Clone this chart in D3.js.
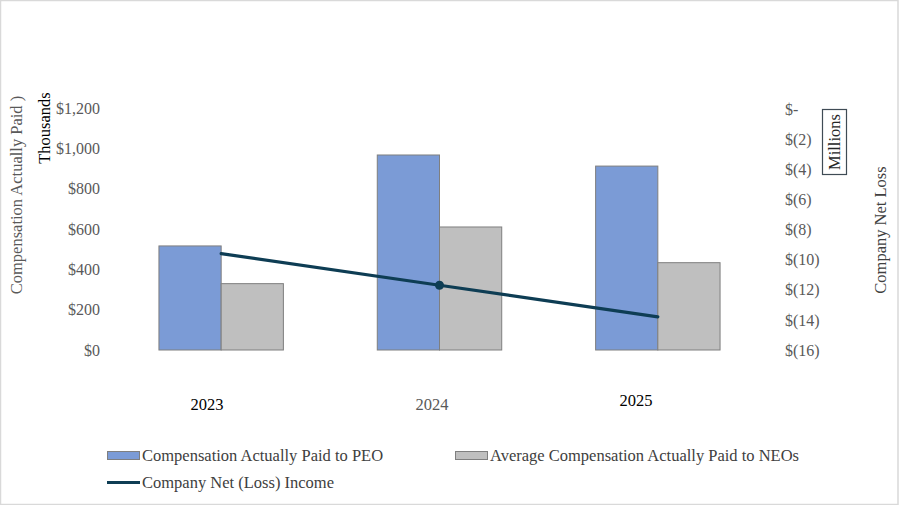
<!DOCTYPE html>
<html>
<head>
<meta charset="utf-8">
<script src="https://cdn.jsdelivr.net/npm/d3@7"></script>
<style>
  body { margin: 0; background: #fff; }
  svg, svg text { font-family: "Times New Roman", "Liberation Serif", "DejaVu Serif", serif; }
</style>
</head>
<body>
<div id="chart"></div>
<script>
// chart data
var years = ["2023", "2024", "2025"];
var peoPaid = [516, 967, 912];      // thousands
var neoPaid = [329, 610, 433];      // thousands
var netIncome = [-9.6, -11.7, -13.8]; // millions
var leftTicks = [0, 200, 400, 600, 800, 1000, 1200];
var rightTicks = [0, -2, -4, -6, -8, -10, -12, -14, -16];
var yearColors = ["#000000", "#595959", "#000000"];

var width = 900, height = 505;
var serif = "'Times New Roman', 'Liberation Serif', serif";

var svg = d3.select("#chart")
  .append("svg")
    .attr("width", width)
    .attr("height", height)
    .attr("font-family", serif);

// outer frame
svg.append("rect")
  .attr("x", 0.5).attr("y", 0.5)
  .attr("width", 897.5).attr("height", height - 1)
  .attr("fill", "#fff")
  .attr("stroke", "#d9d9d9")
  .attr("stroke-width", 1.5);

// scales
var x = d3.scaleBand()
  .domain(years)
  .range([112, 767])
  .paddingInner(0.43)
  .paddingOuter(0.215);

var sub = d3.scaleBand()
  .domain(["peo", "neo"])
  .range([0, x.bandwidth()]);

var yLeft = d3.scaleLinear()
  .domain([0, 1200])
  .range([350, 108]);

var yRight = d3.scaleLinear()
  .domain([-16, 0])
  .range([350, 109]);

// left axis labels
var leftAxis = svg.append("g")
  .attr("transform", "translate(100,0)")
  .call(d3.axisLeft(yLeft).tickValues(leftTicks).tickSize(0).tickPadding(0)
    .tickFormat(function(d) { return "$" + d3.format(",")(d); }));
leftAxis.attr("font-family", serif).attr("font-size", 16);
leftAxis.select(".domain").remove();
leftAxis.selectAll("text")
  .attr("fill", "#595959");

// right axis labels
var rightAxis = svg.append("g")
  .attr("transform", "translate(785,0)")
  .call(d3.axisRight(yRight).tickValues(rightTicks).tickSize(0).tickPadding(0)
    .tickFormat(function(d) { return d === 0 ? "$-" : "$(" + (-d) + ")"; }));
rightAxis.attr("font-family", serif).attr("font-size", 16);
rightAxis.select(".domain").remove();
rightAxis.selectAll("text")
  .attr("fill", "#595959");

// bars
var groups = svg.append("g").selectAll("g")
  .data(years)
  .enter().append("g")
    .attr("transform", function(d) { return "translate(" + x(d) + ",0)"; });

groups.append("rect")
  .attr("x", sub("peo"))
  .attr("y", function(d, i) { return yLeft(peoPaid[i]); })
  .attr("width", sub.bandwidth())
  .attr("height", function(d, i) { return yLeft(0) - yLeft(peoPaid[i]); })
  .attr("fill", "#7b9bd6")
  .attr("stroke", "#7f7f7f")
  .attr("stroke-width", 1);

groups.append("rect")
  .attr("x", sub("neo"))
  .attr("y", function(d, i) { return yLeft(neoPaid[i]); })
  .attr("width", sub.bandwidth())
  .attr("height", function(d, i) { return yLeft(0) - yLeft(neoPaid[i]); })
  .attr("fill", "#bfbfbf")
  .attr("stroke", "#7f7f7f")
  .attr("stroke-width", 1);

// net income line
var lineData = years.map(function(d, i) { return { year: d, v: netIncome[i] }; });
svg.append("path")
  .datum(lineData)
  .attr("fill", "none")
  .attr("stroke", "#0e3d54")
  .attr("stroke-width", 3.2)
  .attr("stroke-linecap", "round")
  .attr("d", d3.line()
    .x(function(d) { return x(d.year) + x.bandwidth() / 2; })
    .y(function(d) { return yRight(d.v); }));

svg.append("circle")
  .attr("cx", x(years[1]) + x.bandwidth() / 2)
  .attr("cy", yRight(netIncome[1]))
  .attr("r", 4.5)
  .attr("fill", "#0e3d54");

// year labels (placed like the original)
var yearPos = [[207, 410], [432, 410], [636, 406]];
svg.append("g").selectAll("text")
  .data(years)
  .enter().append("text")
    .attr("x", function(d, i) { return yearPos[i][0]; })
    .attr("y", function(d, i) { return yearPos[i][1]; })
    .attr("text-anchor", "middle")
    .attr("font-size", 16.5)
    .attr("fill", function(d, i) { return yearColors[i]; })
    .text(function(d) { return d; });

// axis titles
svg.append("text")
  .attr("transform", "translate(22,195) rotate(-90)")
  .attr("text-anchor", "middle")
  .attr("font-size", 16.5)
  .attr("fill", "#595959")
  .text("Compensation Actually Paid )");

svg.append("text")
  .attr("transform", "translate(50,128) rotate(-90)")
  .attr("text-anchor", "middle")
  .attr("font-size", 16.5)
  .attr("fill", "#000")
  .text("Thousands");

svg.append("rect")
  .attr("x", 822.5).attr("y", 109.5)
  .attr("width", 24).attr("height", 65)
  .attr("fill", "#fff")
  .attr("stroke", "#3f4b55")
  .attr("stroke-width", 1.2);

svg.append("text")
  .attr("transform", "translate(840,142) rotate(-90)")
  .attr("text-anchor", "middle")
  .attr("font-size", 16.5)
  .attr("fill", "#262626")
  .text("Millions");

svg.append("text")
  .attr("transform", "translate(886,230) rotate(-90)")
  .attr("text-anchor", "middle")
  .attr("font-size", 16.5)
  .attr("fill", "#404040")
  .text("Company Net Loss");

// legend
var legend = svg.append("g").attr("font-size", 16.5).attr("fill", "#404040");

legend.append("rect")
  .attr("x", 107.5).attr("y", 451.5).attr("width", 32).attr("height", 8)
  .attr("fill", "#7b9bd6").attr("stroke", "#7f7f7f");
legend.append("text")
  .attr("x", 142).attr("y", 461)
  .text("Compensation Actually Paid to PEO");

legend.append("rect")
  .attr("x", 455.5).attr("y", 451.5).attr("width", 32).attr("height", 8)
  .attr("fill", "#bfbfbf").attr("stroke", "#7f7f7f");
legend.append("text")
  .attr("x", 490).attr("y", 461)
  .text("Average Compensation Actually Paid to NEOs");

legend.append("line")
  .attr("x1", 107).attr("x2", 140).attr("y1", 482.5).attr("y2", 482.5)
  .attr("stroke", "#0e3d54").attr("stroke-width", 3.2);
legend.append("text")
  .attr("x", 142).attr("y", 488)
  .text("Company Net (Loss) Income");
</script>
</body>
</html>
